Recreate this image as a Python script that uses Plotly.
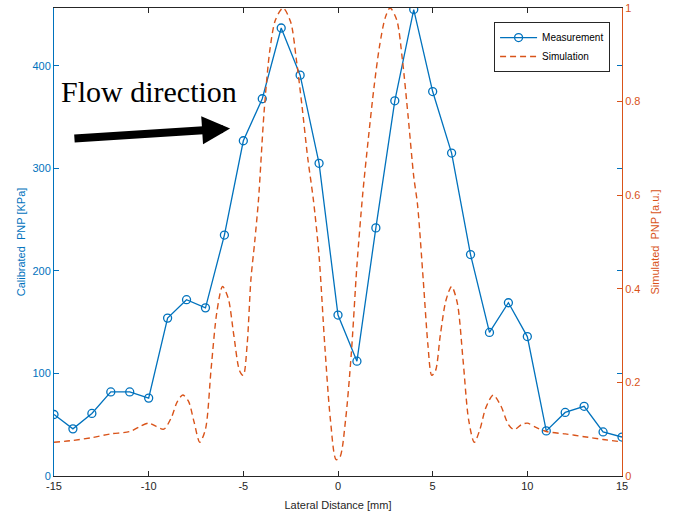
import plotly.graph_objects as go

# Measurement (left axis, KPa)
meas_x = list(range(-15, 16))
meas_y = [60, 46, 61, 82, 82, 76, 154, 172, 164, 235, 327, 368, 437, 391, 305,
          157, 112, 242, 366, 455, 375, 315, 216, 140, 169, 136, 44, 62, 68, 43, 38]

# Simulation (right axis, a.u.)
sim_x = [-15, -14, -13, -12, -11, -10.5, -10, -9.6, -9.2, -8.8, -8.5, -8.2, -7.9, -7.6, -7.3,
         -7.0, -6.7, -6.4, -6.1, -5.8, -5.5, -5.2, -5.0, -4.8, -4.6, -4.4, -4.2, -3.9, -3.6,
         -3.3, -2.9, -2.5, -2.2, -1.9, -1.6, -1.3, -1.0, -0.7, -0.4, -0.1, 0.1, 0.4, 0.7, 1.0,
         1.3, 1.6, 1.9, 2.2, 2.5, 2.75, 3.1, 3.4, 3.7, 4.0, 4.2, 4.5, 4.75, 4.95, 5.15, 5.4,
         5.7, 6.0, 6.3, 6.6, 6.9, 7.2, 7.5, 7.8, 8.2, 8.6, 9.0, 9.3, 9.7, 10.0, 10.4, 11, 12,
         13, 14, 15]
sim_y = [0.072, 0.076, 0.082, 0.090, 0.095, 0.105, 0.113, 0.106, 0.100, 0.125, 0.158, 0.173,
         0.160, 0.115, 0.072, 0.100, 0.230, 0.350, 0.405, 0.380, 0.300, 0.225, 0.215, 0.280,
         0.420, 0.500, 0.590, 0.780, 0.910, 0.975, 1.000, 0.970, 0.890, 0.790, 0.680, 0.590,
         0.470, 0.280, 0.120, 0.035, 0.040, 0.120, 0.260, 0.450, 0.600, 0.720, 0.830, 0.920,
         0.980, 1.000, 0.975, 0.890, 0.770, 0.640, 0.580, 0.420, 0.280, 0.215, 0.225, 0.300,
         0.375, 0.405, 0.370, 0.250, 0.120, 0.072, 0.100, 0.145, 0.173, 0.150, 0.110, 0.099,
         0.110, 0.113, 0.105, 0.095, 0.090, 0.084, 0.078, 0.073]

x_ticks = [-15, -10, -5, 0, 5, 10, 15]
y_ticks = [0, 100, 200, 300, 400]
y2_ticks = [0, 0.2, 0.4, 0.6, 0.8, 1]
y2_labels = ["0", "0.2", "0.4", "0.6", "0.8", "1"]

BLUE = "#0072BD"
ORANGE = "#D95319"
DARK = "#262626"
FONT = "Liberation Sans, Arial, sans-serif"

fig = go.Figure()
fig.add_trace(go.Scatter(
    x=meas_x, y=meas_y, name="Measurement", mode="lines+markers",
    line=dict(color=BLUE, width=1.3),
    marker=dict(symbol="circle-open", size=8, color=BLUE, line=dict(width=1.3)),
    yaxis="y"))
fig.add_trace(go.Scatter(
    x=sim_x, y=sim_y, name="Simulation", mode="lines",
    line=dict(color=ORANGE, width=1.4, dash="6px,4px", shape="spline", smoothing=0.8),
    yaxis="y2"))

fig.add_annotation(x=-9.98, y=375, xref="x", yref="y", text="Flow direction",
                   showarrow=False, font=dict(family="Liberation Serif, Times New Roman, serif",
                                              size=30, color="black"))
fig.add_annotation(x=-5.7, y=339, ax=-14.0, ay=329, xref="x", yref="y", axref="x", ayref="y",
                   text="", showarrow=True, arrowhead=2, arrowsize=0.7, arrowwidth=8,
                   arrowcolor="black")

fig.update_layout(
    width=678, height=517,
    margin=dict(l=54, r=56, t=8, b=41),
    paper_bgcolor="white", plot_bgcolor="white",
    font=dict(family=FONT, size=11, color=DARK),
    showlegend=True,
    legend=dict(x=0.979, y=0.970, xanchor="right", yanchor="top",
                bgcolor="white", bordercolor=DARK, borderwidth=1,
                font=dict(size=10, color="black"), tracegroupgap=0,
                itemwidth=37),
    xaxis=dict(range=[-15, 15], tickvals=x_ticks, ticktext=[str(v) for v in x_ticks],
               ticks="inside", ticklen=5, tickcolor=DARK, showline=True, linecolor=DARK,
               linewidth=1, mirror="ticks", showgrid=False, zeroline=False, automargin=False,
               title=dict(text="Lateral Distance [mm]", font=dict(size=11, color=DARK), standoff=10),
               tickfont=dict(size=11, color=DARK)),
    yaxis=dict(range=[0, 456.5], tickvals=y_ticks, ticktext=[str(v) for v in y_ticks],
               ticks="inside", ticklen=5, tickcolor=BLUE, showline=True, linecolor=BLUE,
               linewidth=1, mirror="ticks", showgrid=False, zeroline=False, automargin=False,
               title=dict(text="Calibrated\u00a0 PNP [KPa]", font=dict(size=11, color=BLUE), standoff=4),
               tickfont=dict(size=11, color=BLUE)),
    yaxis2=dict(range=[0, 1], tickvals=y2_ticks, ticktext=y2_labels, overlaying="y", side="right",
                ticks="inside", ticklen=5, tickcolor=ORANGE, showline=True, linecolor=ORANGE,
                linewidth=1, showgrid=False, zeroline=False, automargin=False,
                title=dict(text="Simulated\u00a0 PNP [a.u.]", font=dict(size=11, color=ORANGE), standoff=11),
                tickfont=dict(size=11, color=ORANGE)),
)

fig.write_html("out.html", config={"displayModeBar": False},
               post_script="document.body.style.margin='0';")
